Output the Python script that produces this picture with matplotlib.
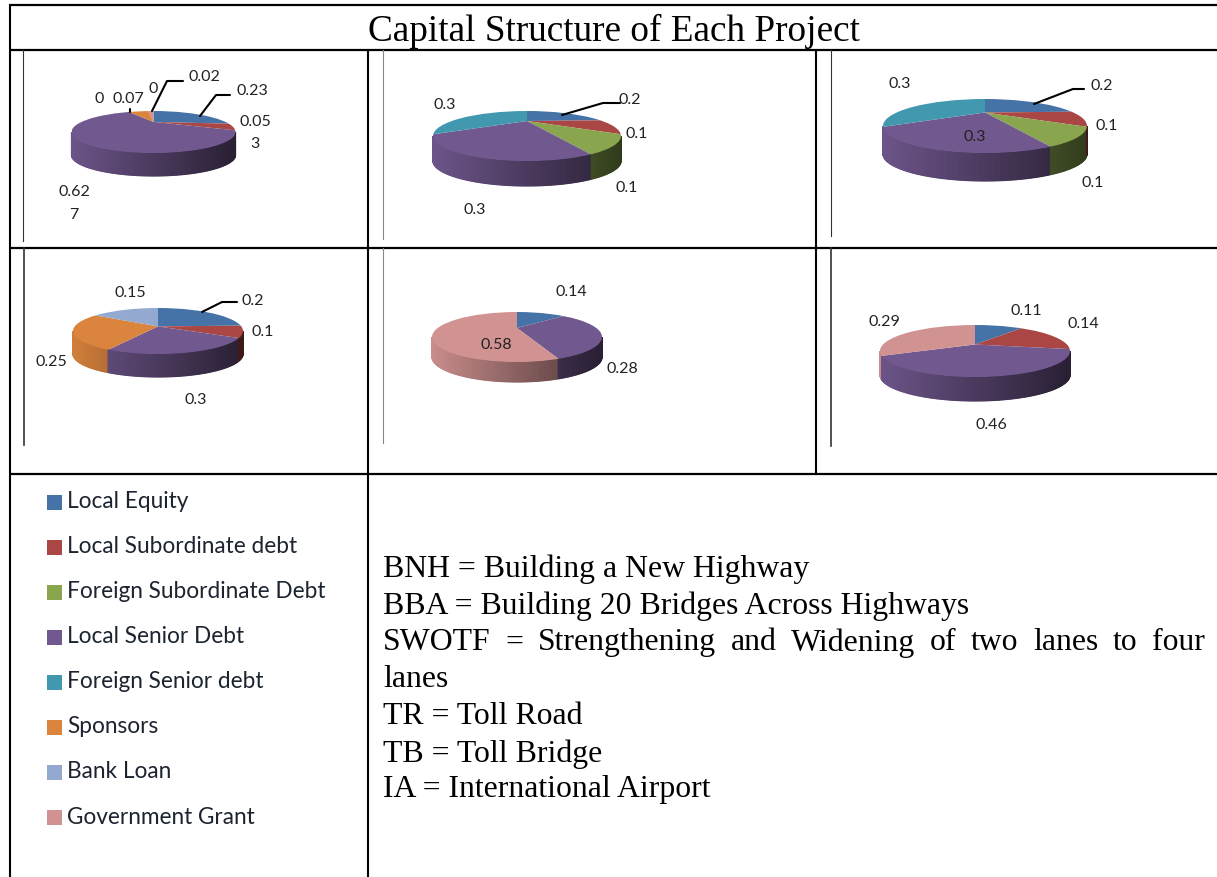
import numpy as np
import matplotlib

matplotlib.use("Agg")
import matplotlib.pyplot as plt
from matplotlib.colors import to_rgb
from matplotlib.patches import Circle, Rectangle

W, H = 1217, 878
SERIF = "Liberation Serif"
LABEL_FONT = "Lato"

categories = [
    "Local Equity",
    "Local Subordinate debt",
    "Foreign Subordinate Debt",
    "Local Senior Debt",
    "Foreign Senior debt",
    "Sponsors",
    "Bank Loan",
    "Government Grant",
]
colors = ["#4573a7", "#aa4644", "#89a54e", "#71588f", "#4298af", "#db843d", "#93a9cf", "#d19392"]

# share of each category, same order as categories
bnh = [0.23, 0.053, 0, 0.627, 0, 0.07, 0, 0.02]
bba = [0.2, 0.1, 0.1, 0.3, 0.3, 0, 0, 0]
swotf = [0.2, 0.1, 0.1, 0.3, 0.3, 0, 0, 0]
tr = [0.2, 0.1, 0, 0.3, 0, 0.25, 0.15, 0]
tb = [0.14, 0, 0, 0.28, 0, 0, 0, 0.58]
ia = [0.11, 0.14, 0, 0.46, 0, 0, 0, 0.29]
projects = [bnh, bba, swotf, tr, tb, ia]

# pie placement in pixels: cx, cy, rx, ry, depth
pie_boxes = [
    (153.5, 133, 82, 21, 23),
    (527, 137, 94, 25, 25),
    (985, 127, 102, 27, 28),
    (158, 332, 85, 23, 23),
    (517, 338, 85, 25, 20),
    (975, 352, 95, 26, 24),
]
# perspective: the slices meet above the middle of the ellipse (fraction of ry)
apex_up = [0.48, 0.6, 0.5, 0.2, 0.36, 0.25]
# true slice angle -> angle seen on the tilted pie, degrees clockwise from the top
true_angle = [0, 50, 72, 90, 108, 144, 180, 216, 252, 306, 327, 360]
seen_angle = [0, 48, 88, 100, 118, 153, 180, 210, 242, 303, 327, 360]

# data labels as they appear in the picture, wrapped ones included
pie_labels = [
    [("0.02", 204, 77), ("0.23", 252, 91), ("0.05", 255, 122), ("3", 255, 144), ("0.62", 74, 192),
     ("7", 74, 215), ("0", 99, 99), ("0.07", 128, 99), ("0", 153, 89)],
    [("0.3", 445, 105), ("0.2", 630, 100), ("0.1", 637, 134), ("0.1", 627, 188), ("0.3", 475, 210)],
    [("0.3", 900, 84), ("0.2", 1102, 86), ("0.1", 1107, 126), ("0.1", 1093, 183), ("0.3", 975, 137)],
    [("0.15", 130, 293), ("0.2", 253, 301), ("0.1", 263, 332), ("0.25", 51, 362), ("0.3", 196, 400)],
    [("0.14", 571, 292), ("0.58", 496, 345), ("0.28", 622, 369)],
    [("0.29", 884, 322), ("0.11", 1026, 311), ("0.14", 1083, 324), ("0.46", 991, 425)],
]

leader_lines = [
    ([152, 167, 183], [112, 82, 82]),
    ([200, 216, 230], [117, 96, 96]),
    ([130, 130], [110, 113]),
    ([562, 603, 620], [116, 104, 104]),
    ([1034, 1073, 1084], [105, 90, 90]),
    ([202, 222, 237], [313, 303, 303]),
]

title = "Capital Structure of Each Project"
notes = [
    "BNH = Building a New Highway",
    "BBA = Building 20 Bridges Across Highways",
    "SWOTF = Strengthening and Widening of two lanes to four",
    "lanes",
    "TR = Toll Road",
    "TB = Toll Bridge",
    "IA = International Airport",
]
note_y = [569, 606, 643, 680, 717, 754, 790]
legend_y = [503, 548, 593, 638, 683, 728, 773, 819]


def draw_pie(values, box, up):
    cx, cy, rx, ry, depth = box
    ax = fig.add_axes(
        [(cx - rx) / W, 1 - (cy + ry + depth) / H, 2 * rx / W, (2 * ry + depth) / H], zorder=1
    )
    edges = np.interp(np.cumsum(values) * 360, true_angle, seen_angle)
    shares = np.diff(edges, prepend=0)
    wedges, _ = ax.pie(shares, colors=colors, startangle=90, counterclock=False, radius=4, center=(0, up))
    dz = 2 * depth / (2 * ry)
    ax.set_aspect("auto")
    ax.set_xlim(-1, 1)
    ax.set_ylim(-1 - dz, 1)
    ax.axis("off")
    rim = Circle((0, 0), 1, transform=ax.transData)
    for w in wedges:
        w.set_clip_on(True)  # pie() turns clipping off
        w.set_clip_path(rim)
    # side wall, darker towards the right
    for a in np.arange(180, 360, 1.0):
        t1, t2 = np.radians(a), np.radians(a + 1.0)
        tm = (t1 + t2) / 2
        x, y = np.cos(tm), np.sin(tm)
        ang = np.degrees(np.arctan2(x, y - up)) % 360
        i = min(int(np.searchsorted(edges, ang)), len(values) - 1)
        shade = 0.66 - 0.3 * x
        rgb = np.array(to_rgb(colors[i])) * shade
        ax.fill(
            [np.cos(t1), np.cos(t2), np.cos(t2), np.cos(t1)],
            [np.sin(t1), np.sin(t2), np.sin(t2) - dz, np.sin(t1) - dz],
            color=rgb,
            lw=0.8,
            zorder=0,
            clip_on=False,
        )


def justify(ax, words, x0, x1, y, size):
    # word spacing so the line fills the cell, like the justified paragraph
    r = fig.canvas.get_renderer()
    items = [ax.text(0, y, w, family=SERIF, fontsize=size, va="center") for w in words]
    widths = [t.get_window_extent(r).width for t in items]
    gap = (x1 - x0 - sum(widths)) / (len(words) - 1)
    x = x0
    for t, w in zip(items, widths):
        t.set_x(x)
        x += w + gap


fig = plt.figure(figsize=(W / 100, H / 100), dpi=100)
ax = fig.add_axes([0, 0, 1, 1], zorder=2)
ax.set_xlim(0, W)
ax.set_ylim(H, 0)
ax.axis("off")
ax.patch.set_alpha(0)

# table grid
for y in [6, 51, 248.5, 474.5]:
    ax.plot([9, W], [y, y], color="black", lw=1.6, solid_capstyle="butt")
ax.plot([9.5, 9.5], [5, H], color="black", lw=1.5, solid_capstyle="butt")
ax.plot([368, 368], [50, H], color="black", lw=1.5, solid_capstyle="butt")
ax.plot([816, 816], [50, 474], color="black", lw=1.5, solid_capstyle="butt")

# left edges of the pasted chart pictures
ax.plot([23, 23], [51, 242], color="#333333", lw=0.8)
ax.plot([383, 383], [51, 240], color="#888888", lw=0.8)
ax.plot([831, 831], [51, 237], color="#333333", lw=0.8)
ax.plot([24, 24], [249, 446], color="#333333", lw=1.2)
ax.plot([383, 383], [249, 444], color="#888888", lw=0.8)
ax.plot([831, 831], [249, 447], color="#333333", lw=1.2)

ax.text(614, 31, title, family=SERIF, fontsize=26.8, ha="center", va="center")
ax.text(186, -8, "p", family=SERIF, fontsize=22, ha="center", va="baseline", clip_on=False)

for values, box, up in zip(projects, pie_boxes, apex_up):
    draw_pie(values, box, up)

for labels in pie_labels:
    for txt, x, y in labels:
        ax.text(x, y, txt, family=LABEL_FONT, fontsize=11.5, color="#222222", ha="center", va="center")

for xs, ys in leader_lines:
    ax.plot(xs, ys, color="black", lw=1.5, solid_capstyle="round")

for name, col, y in zip(categories, colors, legend_y):
    ax.add_patch(Rectangle((47, y - 7.5), 15, 15, facecolor=col, edgecolor="none"))
    ax.text(67, y - 1, name, family=LABEL_FONT, fontsize=16.3, color="#1c2430", va="center")

for i, (line, y) in enumerate(zip(notes, note_y)):
    if i == 2:
        justify(ax, line.split(" "), 383, 1205, y, 22.9)
    else:
        ax.text(383, y, line, family=SERIF, fontsize=22.9, va="center")

fig.savefig("out.png", dpi=100, facecolor="white")
